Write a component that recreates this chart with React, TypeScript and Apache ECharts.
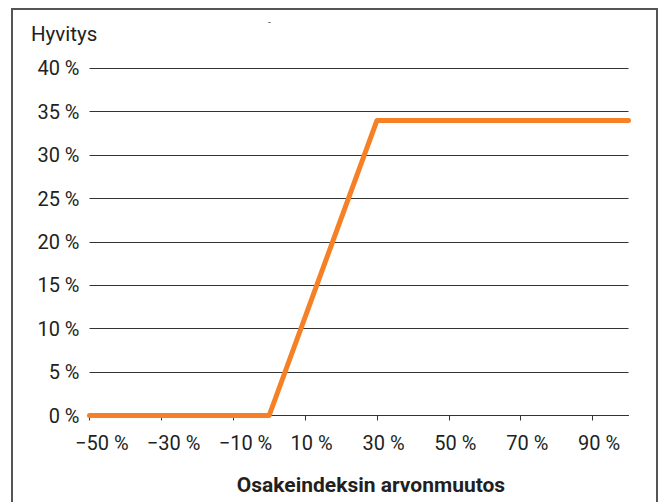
import React, { useEffect, useRef } from "react";
import * as echarts from "echarts";

const xTickValues = [-50, -30, -10, 10, 30, 50, 70, 90];
const yTickStep = 5;
const seriesPoints: [number, number][] = [
  [-50, 0],
  [0, 0],
  [30, 34],
  [100, 34],
];
const yAxisTitle = "Hyvitys";
const xAxisTitle = "Osakeindeksin arvonmuutos";

const FONT = "Roboto, 'Noto Sans', sans-serif";
const fmtPct = (v: number) => (v < 0 ? `\u2212${-v} %` : `${v} %`);

export default function App() {
  const ref = useRef<HTMLDivElement>(null);
  useEffect(() => {
    if (!ref.current) return;
    const chart = echarts.init(ref.current, null, { renderer: "svg" });
    chart.setOption({
      animation: false,
      backgroundColor: "#ffffff",
      textStyle: { fontFamily: FONT },
      grid: { left: 89.5, right: 35.5, top: 68.3, bottom: 86.5, containLabel: false },
      graphic: [
        {
          type: "rect",
          shape: { x: 12, y: 9, width: 645, height: 510 },
          style: { fill: "none", stroke: "#555555", lineWidth: 2 },
          silent: true,
        },
        {
          type: "text",
          left: 31,
          top: 23,
          style: { text: yAxisTitle, font: `20.5px ${FONT}`, fill: "#231f20" },
        },
        {
          type: "text",
          left: 268,
          top: 17,
          style: { text: "-", font: `10px ${FONT}`, fill: "#555555" },
        },
        {
          type: "text",
          x: 371,
          y: 485,
          style: {
            text: xAxisTitle,
            font: `bold 21px ${FONT}`,
            fill: "#231f20",
            align: "center",
            verticalAlign: "middle",
          },
        },
      ],
      xAxis: {
        type: "value",
        min: -50,
        max: 100,
        splitLine: { show: false },
        axisLine: { show: true, lineStyle: { color: "#333333", width: 1 } },
        axisTick: {
          show: true,
          length: 5,
          customValues: xTickValues,
          lineStyle: { color: "#333333" },
        },
        axisLabel: {
          customValues: xTickValues,
          formatter: fmtPct,
          fontSize: 20,
          fontFamily: FONT,
          color: "#231f20",
          margin: 17,
          align: "left",
          padding: [0, 0, 0, -14.5],
        },
      },
      yAxis: {
        type: "value",
        min: 0,
        max: 40,
        interval: yTickStep,
        axisLine: { show: false },
        axisTick: { show: false },
        splitLine: { show: true, lineStyle: { color: "#333333", width: 1 } },
        axisLabel: {
          formatter: fmtPct,
          fontSize: 20,
          fontFamily: FONT,
          color: "#231f20",
          margin: 10,
        },
      },
      series: [
        {
          type: "line",
          data: seriesPoints,
          symbol: "none",
          lineStyle: { color: "#F58025", width: 5, cap: "round", join: "round" },
          z: 5,
        },
      ],
    });
    return () => chart.dispose();
  }, []);
  return (
    <div
      ref={ref}
      style={{ position: "fixed", left: 0, top: 0, width: 664, height: 502 }}
    />
  );
}
